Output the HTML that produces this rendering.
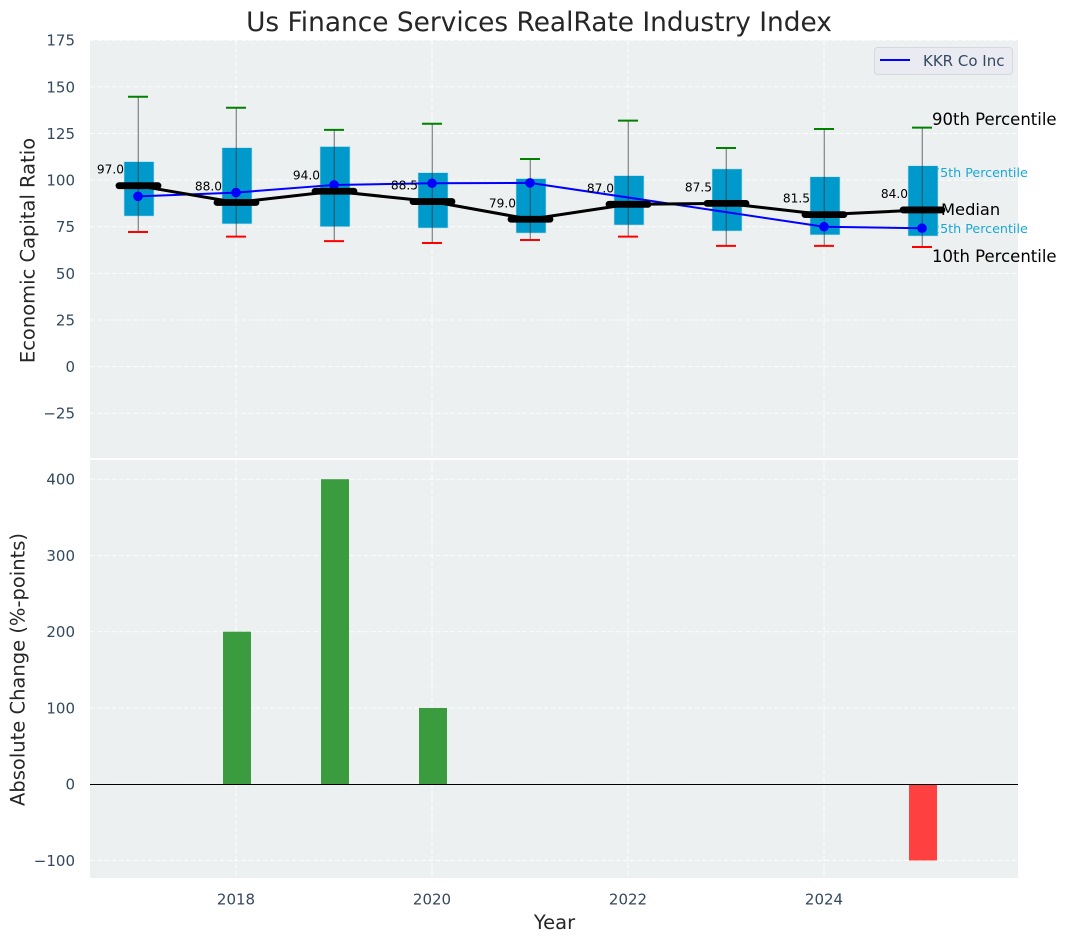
<!DOCTYPE html>
<html>
<head>
<meta charset="utf-8">
<title>Us Finance Services RealRate Industry Index</title>
<style>
html,body{margin:0;padding:0;background:#fff;}
svg{display:block;font-family:"DejaVu Sans","Liberation Sans",sans-serif;}
</style>
</head>
<body>
<svg id="chart" width="1067" height="942" viewBox="0 0 1067 942" xmlns="http://www.w3.org/2000/svg">
<text x="539" y="31" text-anchor="middle" font-size="26.4" fill="#262626">Us Finance Services RealRate Industry Index</text>
<rect x="90" y="40" width="928" height="418" fill="#ecf0f1"/>
<rect x="90" y="460" width="928" height="418" fill="#ecf0f1"/>
<g id="grid"></g>
<g id="axes"></g>
<text transform="translate(34.500,250.500) rotate(-90)" text-anchor="middle" font-size="19.5" fill="#262626">Economic Capital Ratio</text>
<text transform="translate(24.500,669.500) rotate(-90)" text-anchor="middle" font-size="19.5" fill="#262626">Absolute Change (%-points)</text>
<text x="554.500" y="929" text-anchor="middle" font-size="19.5" fill="#262626">Year</text>
<text x="932" y="125" font-size="16.500" fill="#000">90th Percentile</text>
<text x="932" y="177" font-size="12.700" fill="#1aa7d6">75th Percentile</text>
<text x="941" y="215" font-size="16.300" fill="#000">Median</text>
<text x="932" y="233" font-size="12.700" fill="#1aa7d6">25th Percentile</text>
<text x="932" y="262" font-size="16.500" fill="#000">10th Percentile</text>
<g id="marks"></g>
<g>
<rect x="874.500" y="47.500" width="138" height="27" rx="3" fill="#eaeaf2" stroke="#d5d8dc"/>
<line x1="880" x2="910" y1="60" y2="60" stroke="#0000ff" stroke-width="2"/>
<text x="923" y="66" font-size="15" fill="#34495e">KKR Co Inc</text>
</g>
</svg>
<script>
const years = [2017, 2018, 2019, 2020, 2021, 2022, 2023, 2024, 2025];
const p90 = [144.7, 138.8, 126.9, 130.2, 111.3, 131.9, 117.2, 127.4, 128.1];
const p75 = [109.9, 117.4, 118, 104, 100.8, 102.4, 106, 101.8, 107.7];
const medians = [97, 88, 94, 88.5, 79, 87, 87.5, 81.5, 84];
const p25 = [80.7, 76.5, 75, 74.3, 71.6, 75.9, 72.7, 70.6, 70];
const p10 = [72.2, 69.7, 67.3, 66.3, 67.9, 69.7, 64.7, 64.7, 64.1];
const companyValues = [91.3, 93.3, 97.4, 98.3, 98.5, null, null, 75, 74.2];
const changeValues = [null, 200, 400, 100, null, null, null, null, -100];
const topTicks = [-25, 0, 25, 50, 75, 100, 125, 150, 175];
const bottomTicks = [-100, 0, 100, 200, 300, 400];
const xTicks = [2018, 2020, 2022, 2024];

const NS = 'http://www.w3.org/2000/svg';
function x(year) { return 236 + (year - 2018) * 98; }
function yTop(v) { return 366.6 - v * 1.8651; }
function yBottom(v) { return 784.2 - v * 0.7625; }
function make(parent, tag, attrs, text) {
  const el = document.createElementNS(NS, tag);
  for (const k in attrs) el.setAttribute(k, attrs[k]);
  if (text !== undefined) el.textContent = text;
  parent.appendChild(el);
  return el;
}
const grid = document.getElementById('grid');
const axes = document.getElementById('axes');
const marks = document.getElementById('marks');
const gridStyle = { stroke: '#ffffff', 'stroke-width': 1, 'stroke-dasharray': '5 2.2', 'stroke-opacity': 0.85 };

xTicks.forEach(function (t) {
  [[40, 458], [460, 878]].forEach(function (r) {
    const g = make(grid, 'line', Object.assign({ x1: x(t), x2: x(t), y1: r[0], y2: r[1] }, gridStyle));
    
    
  });
  const l = make(axes, 'text', { x: x(t), y: 904.5, 'text-anchor': 'middle', 'font-size': 15, fill: '#34495e' }, String(t));
  
  
});
function yTicks(ticks, scale, prefix) {
  ticks.forEach(function (t) {
    const g = make(grid, 'line', Object.assign({ x1: 90, x2: 1018, y1: scale(t), y2: scale(t) }, gridStyle));
    
    
    const l = make(axes, 'text', { x: 75, y: scale(t) + 5.5, 'text-anchor': 'end', 'font-size': 15, fill: '#34495e' }, String(t).replace('-', '\u2212'));
    
    
  });
}
yTicks(topTicks, yTop, 'top');
yTicks(bottomTicks, yBottom, 'bottom');

years.forEach(function (yr, i) {
  const cx = x(yr);
  const box = make(marks, 'rect', { x: cx - 14, y: yTop(p75[i]), width: 30, height: yTop(p25[i]) - yTop(p75[i]), fill: '#0099cc', stroke: '#bfe3ef', 'stroke-width': 0.6 });
  
  
  const stem = make(marks, 'line', { x1: cx + 0.3, x2: cx + 0.3, y1: yTop(p90[i]), y2: yTop(p10[i]), stroke: '#333333', 'stroke-opacity': 0.55, 'stroke-width': 1.3 });
  
  
  const capTop = make(marks, 'line', { x1: cx - 10, x2: cx + 10, y1: yTop(p90[i]), y2: yTop(p90[i]), stroke: '#008000', 'stroke-width': 2 });
  
  
  const capBottom = make(marks, 'line', { x1: cx - 10, x2: cx + 10, y1: yTop(p10[i]), y2: yTop(p10[i]), stroke: '#ff0000', 'stroke-width': 2 });
  
  
});

const companyPts = years.map(function (yr, i) {
  return companyValues[i] === null ? null : x(yr) + ',' + yTop(companyValues[i]);
}).filter(Boolean).join(' ');
const companyLine = make(marks, 'polyline', { points: companyPts, fill: 'none', stroke: '#0000ff', 'stroke-width': 2 });


years.forEach(function (yr, i) {
  if (companyValues[i] === null) return;
  const dot = make(marks, 'circle', { cx: x(yr), cy: yTop(companyValues[i]), r: 4.8, fill: '#0000ff' });
  
  
});

const medianPts = years.map(function (yr, i) { return x(yr) + ',' + yTop(medians[i]); }).join(' ');
const medianLine = make(marks, 'polyline', { points: medianPts, fill: 'none', stroke: '#000000', 'stroke-width': 3 });


years.forEach(function (yr, i) {
  const cx = x(yr);
  const bar = make(marks, 'line', { x1: cx - 19, x2: cx + 20, y1: yTop(medians[i]), y2: yTop(medians[i]), stroke: '#000000', 'stroke-width': 6.8, 'stroke-linecap': 'round' });
  
  
  const lab = make(marks, 'text', { x: cx - 14, y: yTop(medians[i]) - 12, 'text-anchor': 'end', 'font-size': 12.2, fill: '#000000' }, medians[i].toFixed(1));
  
  
});

years.forEach(function (yr, i) {
  const v = changeValues[i];
  if (v === null) return;
  const top = Math.min(yBottom(v), yBottom(0));
  const h = Math.abs(yBottom(v) - yBottom(0));
  const r = make(marks, 'rect', { x: x(yr) - 13, y: top, width: 28, height: h, fill: v >= 0 ? '#3a9c3e' : '#ff4040' });
  
  
});
const zeroY = Math.floor(yBottom(0)) + 0.5;
const zero = make(marks, 'line', { x1: 90, x2: 1018, y1: zeroY, y2: zeroY, stroke: '#000000', 'stroke-width': 1 });


</script>
</body>
</html>
